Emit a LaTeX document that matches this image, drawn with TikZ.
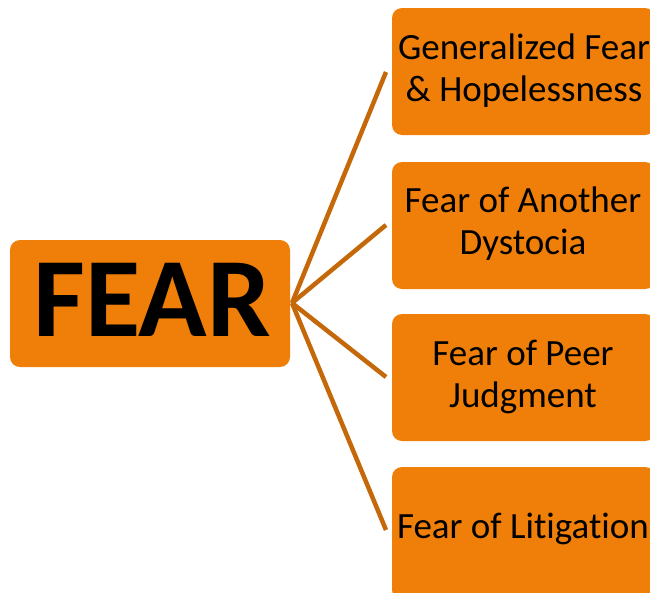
\documentclass[tikz,border=0pt]{standalone}
\usepackage{fontspec}
\setmainfont{Carlito}[Ligatures={CommonOff,ContextualOff}]
\definecolor{boxor}{RGB}{240,127,9}
\definecolor{lineor}{RGB}{196,104,10}
\begin{document}
\begin{tikzpicture}[x=1pt,y=-1pt,
  box/.style={fill=boxor,rounded corners=10pt,draw=none},
  lbl/.style={font=\fontsize{37}{42}\selectfont,align=center,text=black,inner sep=0pt},
  conn/.style={draw=lineor,line width=4.5pt}]
\useasboundingbox (0,0) rectangle (650,592);
\clip (0,0) rectangle (650,592);
\fill[box] (10,240) rectangle (290,367);
\node[font=\fontsize{113}{113}\selectfont\bfseries,inner sep=0pt] (fear) at (152,300) {FEAR};
\coordinate (hub) at (292,303);
\fill[box] (392,8) rectangle (655,135);
\fill[box] (392,162) rectangle (655,289);
\fill[box] (392,314) rectangle (655,441);
\fill[box] (392,467) rectangle (655,600);
\node[lbl] (b1) at (524,71) {Generalized Fear\\\& Hopelessness};
\node[lbl] (b2) at (523,224) {Fear of Another\\Dystocia};
\node[lbl] (b3) at (523,377) {Fear of Peer\\Judgment};
\node[lbl] (b4) at (523,529) {Fear of Lit\kern0pt igation};
\coordinate (e1) at (386,72);
\coordinate (e2) at (386,225);
\coordinate (e3) at (386,377);
\coordinate (e4) at (386,530);
\draw[conn] (hub) -- (e1);
\draw[conn] (hub) -- (e2);
\draw[conn] (hub) -- (e3);
\draw[conn] (hub) -- (e4);
\end{tikzpicture}
\end{document}
